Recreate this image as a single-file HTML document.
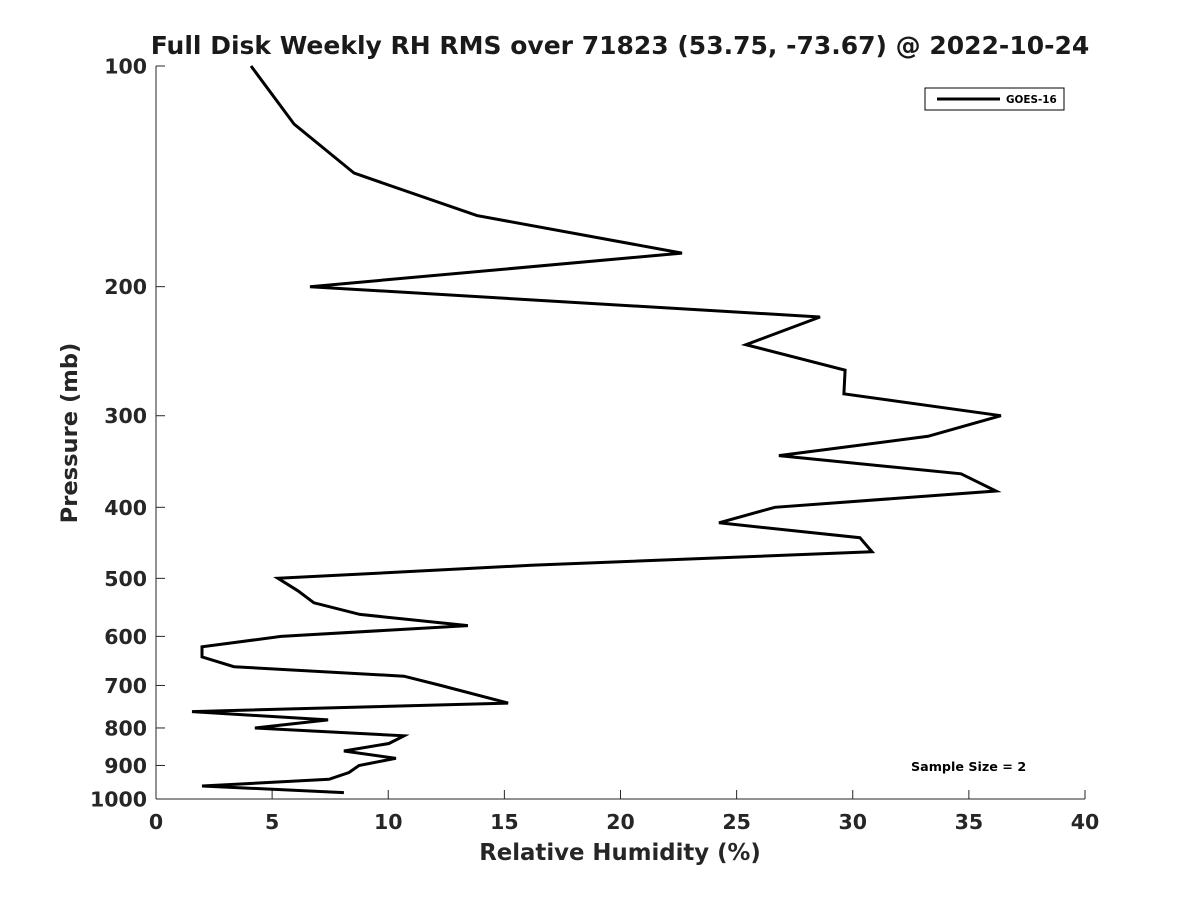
<!DOCTYPE html>
<html><head><meta charset="utf-8"><style>
body{margin:0;background:#fff;}
svg{display:block;font-family:"DejaVu Sans","Liberation Sans",sans-serif;}
</style></head><body>
<svg id="chart" width="1200" height="900" viewBox="0 0 1200 900">
<rect width="1200" height="900" fill="#fff"/>
<text x="620" y="54" text-anchor="middle" font-size="25" font-weight="bold" fill="#1a1a1a">Full Disk Weekly RH RMS over 71823 (53.75, -73.67) @ 2022-10-24</text>
<g id="axes"></g>
<polyline id="line" fill="none" stroke="#000" stroke-width="3" stroke-linejoin="miter"/>
<text x="620" y="860" text-anchor="middle" font-size="22.8" font-weight="bold" fill="#262626">Relative Humidity (%)</text>
<text transform="translate(77,433) rotate(-90)" text-anchor="middle" font-size="22.6" font-weight="bold" fill="#262626">Pressure (mb)</text>
<g>
<rect x="925" y="88" width="139" height="22" fill="#fff" stroke="#000" stroke-width="1"/>
<line x1="937" y1="99" x2="1000" y2="99" stroke="#000" stroke-width="3"/>
<text x="1006" y="103" font-size="10.4" font-weight="bold">GOES-16</text>
</g>
<text x="911" y="771" font-size="12.7" font-weight="bold">Sample Size = 2</text>
</svg>
<script>
const rhValues=[4.09,5.94,8.53,13.82,22.65,6.63,28.59,25.40,29.67,29.62,36.38,33.24,26.82,34.66,36.17,26.65,24.24,30.31,30.83,16.15,5.25,6.11,6.80,8.78,13.43,5.38,1.98,1.98,3.36,10.68,12.27,15.16,1.55,7.41,4.26,10.68,10.03,8.09,10.33,8.74,8.31,7.45,1.98,8.09];
const pressures=[100,120,140,160,180,200,220,240,260,280,300,320,340,360,380,400,420,440,460,480,500,520,540,560,580,600,620,640,660,680,700,740,760,780,800,820,840,860,880,900,920,940,960,980];
const xTicks=[0,5,10,15,20,25,30,35,40];
const yTicks=[100,200,300,400,500,600,700,800,900,1000];
const X0=156,X1=1085,Y0=66,Y1=799;
const xs=v=>X0+(v-0)/(40-0)*(X1-X0);
const ys=p=>Y0+Math.log10(p/100)*(Y1-Y0);
const ns="http://www.w3.org/2000/svg";
const axes=document.getElementById('axes');
function mk(t,a,txt){const e=document.createElementNS(ns,t);for(const k in a)e.setAttribute(k,a[k]);if(txt!==undefined)e.textContent=txt;axes.appendChild(e);return e;}
const xa=mk('line',{x1:X0,y1:Y1,x2:X1,y2:Y1,stroke:'#262626','stroke-width':1});


const ya=mk('line',{x1:X0,y1:Y0,x2:X0,y2:Y1,stroke:'#262626','stroke-width':1});


xTicks.forEach(v=>{const x=xs(v);
mk('line',{x1:x,y1:Y1,x2:x,y2:Y1-9,stroke:'#262626'});
const t=mk('text',{x:x,y:Y1+30,'text-anchor':'middle','font-size':20.5,'font-weight':'bold',fill:'#262626'},v);

});
yTicks.forEach(v=>{const y=ys(v);
mk('line',{x1:X0,y1:y,x2:X0+9,y2:y,stroke:'#262626'});
const t=mk('text',{x:X0-9,y:y+7.5,'text-anchor':'end','font-size':20.5,'font-weight':'bold',fill:'#262626'},v);

});
document.getElementById('line').setAttribute('points',rhValues.map((v,i)=>xs(v).toFixed(1)+','+ys(pressures[i]).toFixed(1)).join(' '));
</script>
</body></html>
